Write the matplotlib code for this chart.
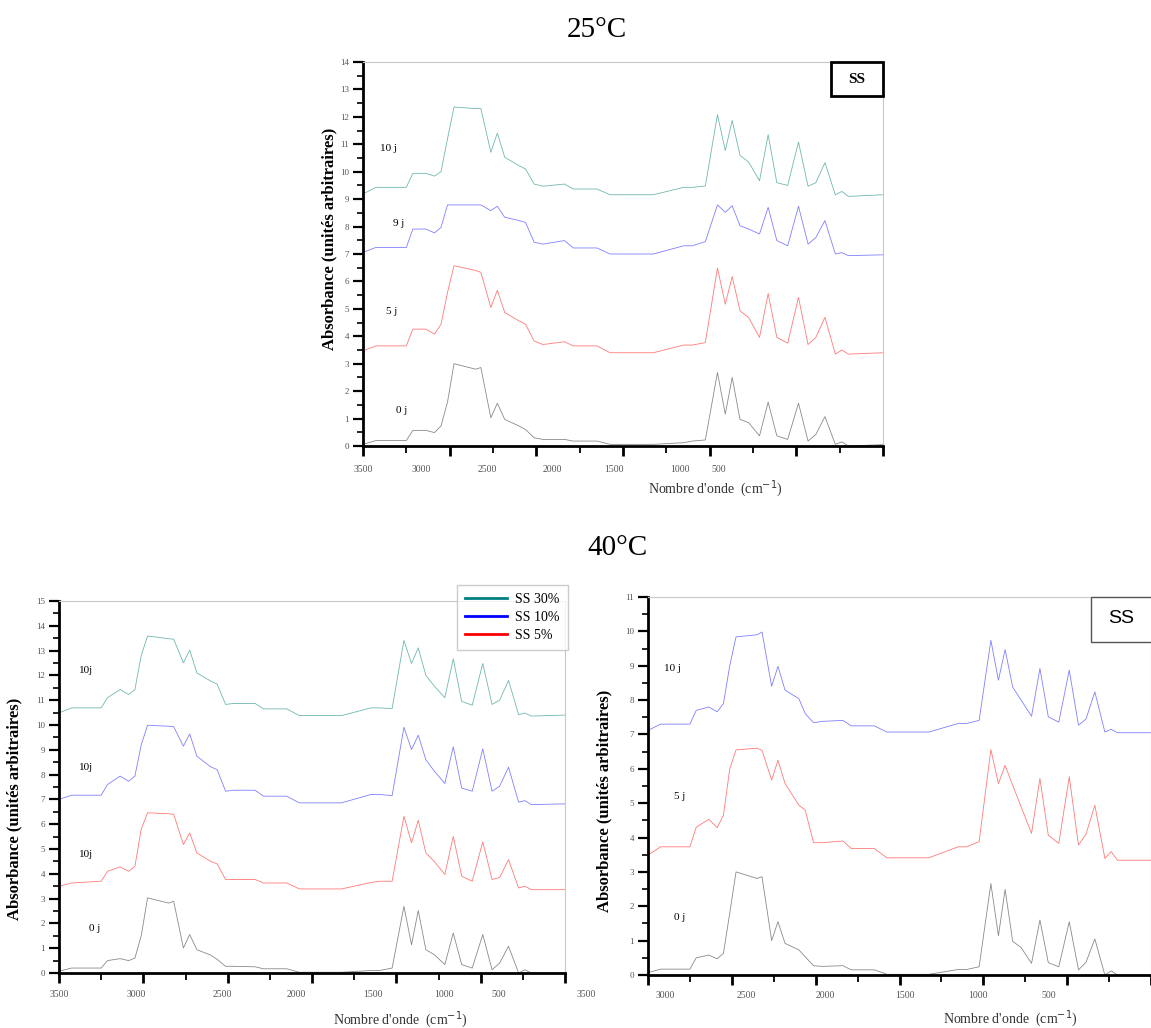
import numpy as np
import matplotlib
matplotlib.use('Agg')
import matplotlib.pyplot as plt
from matplotlib.lines import Line2D
from matplotlib.patches import Rectangle

plt.rcParams['font.family'] = ['Liberation Serif', 'DejaVu Serif']

# wavenumber grid (cm-1) shared by all spectra
wavenumber = [4000, 3910, 3700, 3655, 3565, 3505, 3460, 3415, 3370, 3220, 3184,
              3115, 3070, 3019, 2920, 2875, 2815, 2755, 2605, 2545, 2380, 2290,
              1990, 1780, 1720, 1630, 1546, 1492, 1444, 1390, 1330, 1255, 1195,
              1135, 1060, 985, 919, 865, 802, 730, 685, 640, 400]

# 25 C, stacked spectra (0 j, 5 j, 9 j, 10 j)
t25_0j = [0.06, 0.2, 0.2, 0.57, 0.57, 0.49, 0.73, 1.6, 3.0, 2.8, 2.86, 1.03, 1.56,
          0.97, 0.73, 0.6, 0.3, 0.24, 0.24, 0.18, 0.18, 0.06, 0.06, 0.12, 0.18,
          0.22, 2.68, 1.16, 2.5, 0.97, 0.85, 0.37, 1.6, 0.37, 0.24, 1.56, 0.18,
          0.42, 1.07, 0.06, 0.15, 0.0, 0.05]
t25_5j = [3.47, 3.65, 3.65, 4.26, 4.26, 4.08, 4.44, 5.6, 6.57, 6.4, 6.33, 5.05,
          5.68, 4.87, 4.56, 4.44, 3.83, 3.7, 3.8, 3.65, 3.65, 3.4, 3.4, 3.68, 3.68,
          3.77, 6.49, 5.17, 6.18, 4.93, 4.68, 3.96, 5.56, 3.96, 3.75, 5.42, 3.7,
          3.96, 4.69, 3.35, 3.5, 3.35, 3.4]
t25_9j = [7.06, 7.24, 7.24, 7.91, 7.91, 7.77, 7.97, 8.79, 8.79, 8.79, 8.79, 8.58,
          8.74, 8.34, 8.22, 8.15, 7.43, 7.36, 7.49, 7.22, 7.22, 7.0, 7.0, 7.3, 7.3,
          7.45, 8.79, 8.52, 8.76, 8.03, 7.91, 7.73, 8.7, 7.49, 7.3, 8.74, 7.36,
          7.6, 8.22, 7.0, 7.05, 6.94, 6.97]
t25_10j = [9.19, 9.43, 9.43, 9.94, 9.94, 9.84, 10.0, 11.2, 12.36, 12.3, 12.3, 10.71,
           11.41, 10.53, 10.22, 10.1, 9.55, 9.47, 9.55, 9.37, 9.37, 9.16, 9.16,
           9.43, 9.43, 9.48, 12.08, 10.77, 11.87, 10.6, 10.35, 9.67, 11.35, 9.6,
           9.5, 11.08, 9.47, 9.6, 10.33, 9.16, 9.28, 9.1, 9.16]

# 40 C, left panel
t40a_0j = [0.07, 0.2, 0.2, 0.5, 0.58, 0.5, 0.6, 1.5, 3.03, 2.82, 2.89, 1.01, 1.55,
           0.94, 0.72, 0.55, 0.27, 0.27, 0.25, 0.17, 0.17, 0.03, 0.03, 0.1, 0.1,
           0.2, 2.69, 1.14, 2.52, 0.94, 0.74, 0.34, 1.61, 0.34, 0.2, 1.55, 0.13,
           0.4, 1.08, 0.0, 0.13, 0.0, 0.0]
t40a_red = [3.5, 3.63, 3.7, 4.1, 4.28, 4.1, 4.3, 5.8, 6.46, 6.42, 6.4, 5.18, 5.65,
            4.84, 4.5, 4.4, 3.77, 3.77, 3.77, 3.63, 3.63, 3.39, 3.39, 3.65, 3.7,
            3.7, 6.32, 5.25, 6.16, 4.84, 4.5, 3.97, 5.51, 3.9, 3.7, 5.29, 3.77,
            3.85, 4.57, 3.43, 3.5, 3.36, 3.36]
t40a_blue = [7.0, 7.17, 7.17, 7.6, 7.94, 7.73, 7.94, 9.2, 9.99, 9.95, 9.93, 9.15,
             9.64, 8.74, 8.31, 8.2, 7.33, 7.37, 7.37, 7.13, 7.13, 6.86, 6.86, 7.2,
             7.2, 7.15, 9.91, 9.01, 9.59, 8.6, 8.14, 7.64, 9.12, 7.46, 7.33, 9.04,
             7.33, 7.53, 8.3, 6.89, 6.95, 6.79, 6.82]
t40a_green = [10.49, 10.69, 10.69, 11.1, 11.43, 11.23, 11.43, 12.8, 13.59, 13.48,
              13.46, 12.51, 13.02, 12.1, 11.77, 11.65, 10.83, 10.87, 10.87, 10.65,
              10.65, 10.38, 10.38, 10.69, 10.69, 10.66, 13.41, 12.48, 13.11, 12.0,
              11.57, 11.1, 12.67, 10.95, 10.8, 12.48, 10.83, 11.0, 11.8, 10.42,
              10.48, 10.36, 10.4]

# 40 C, right panel
t40b_0j = [0.07, 0.17, 0.17, 0.5, 0.58, 0.47, 0.63, 1.8, 3.0, 2.81, 2.86, 1.0, 1.55,
           0.92, 0.73, 0.53, 0.27, 0.25, 0.27, 0.15, 0.15, 0.02, 0.02, 0.16, 0.16,
           0.24, 2.66, 1.14, 2.49, 0.98, 0.8, 0.34, 1.6, 0.36, 0.24, 1.55, 0.15,
           0.37, 1.05, 0.0, 0.12, 0.0, 0.0]
t40b_5j = [3.49, 3.73, 3.73, 4.3, 4.53, 4.29, 4.65, 6.0, 6.55, 6.6, 6.54, 5.67, 6.25,
           5.57, 4.94, 4.8, 3.85, 3.85, 3.9, 3.68, 3.68, 3.41, 3.41, 3.73, 3.73,
           3.88, 6.56, 5.57, 6.1, 5.52, 4.9, 4.12, 5.72, 4.07, 3.83, 5.77, 3.78,
           4.1, 4.94, 3.39, 3.59, 3.34, 3.34]
t40b_10j = [7.12, 7.3, 7.3, 7.7, 7.8, 7.66, 7.9, 9.0, 9.84, 9.9, 9.98, 8.4, 8.98,
            8.29, 8.04, 7.61, 7.34, 7.38, 7.41, 7.25, 7.25, 7.07, 7.07, 7.32, 7.32,
            7.41, 9.74, 8.58, 9.47, 8.38, 8.0, 7.53, 8.92, 7.51, 7.36, 8.87, 7.27,
            7.45, 8.24, 7.07, 7.15, 7.05, 7.05]

legend_labels = ['SS 30%', 'SS 10%', 'SS 5%']

# tick label strings and where they sit along the axis
top_xlabels = [(4000, '3500'), (3598, '3000'), (3142, '2500'), (2692, '2000'),
               (2263, '1500'), (1805, '1000'), (1535, '500')]
left_xlabels = [(4000, '3500'), (3452, '3000'), (2840, '2500'), (2314, '2000'),
                (1766, '1500'), (1261, '1000'), (871, '500'), (250, '3500')]
right_xlabels = [(3873, '3000'), (3294, '2500'), (2729, '2000'), (2158, '1500'),
                 (1642, '1000'), (1135, '500')]

c_black = '#8a8a8a'
c_red = '#ff7a7a'
c_blue = '#8080ff'
c_green = '#70b8b0'

W, H = 1151, 1028
fig = plt.figure(figsize=(W / 100, H / 100), dpi=100)


def px_axes(left, top, right, bottom):
    return fig.add_axes([left / W, 1 - bottom / H, (right - left) / W, (bottom - top) / H])


def style(ax, ymax, xend, xlabels, lab_y):
    ax.set_xlim(4000, xend)
    ax.set_ylim(0, ymax)
    ax.set_xticks(range(4000, 399, -600))
    ax.set_xticks(range(3700, 399, -600), minor=True)
    ax.set_xticklabels([])
    ax.set_yticks(range(0, ymax + 1))
    ax.set_yticks(np.arange(0.5, ymax, 1.0), minor=True)
    ax.tick_params(axis='x', which='major', direction='out', length=7, width=2)
    ax.tick_params(axis='x', which='minor', direction='out', length=5, width=1.3)
    ax.tick_params(axis='y', which='major', direction='out', length=7, width=1.6,
                   labelsize=6.5, labelcolor='#555555', pad=3)
    ax.tick_params(axis='y', which='minor', direction='out', length=4, width=1.2)
    for s in ['left', 'bottom']:
        ax.spines[s].set_linewidth(2)
        ax.spines[s].set_color('black')
    for s in ['top', 'right']:
        ax.spines[s].set_linewidth(0.8)
        ax.spines[s].set_color('#c8c8c8')
    tr = ax.get_xaxis_transform()
    for pos, txt in xlabels:
        ax.text(pos, lab_y, txt, transform=tr, ha='center', va='center',
                fontsize=7, color='#555555', clip_on=False)


def axis_titles(ax, ylab_xy, xlab_xy):
    ax.set_ylabel('Absorbance (unités arbitraires)', fontsize=12, fontweight='bold')
    ax.yaxis.set_label_coords(*ylab_xy)
    ax.text(xlab_xy[0], xlab_xy[1], "Nombre d'onde  (cm$^{-1}$)", transform=ax.transAxes,
            ha='center', va='center', fontsize=10, color='#333333')


lw = 0.6

# 25 C
ax1 = px_axes(363, 62, 883, 446)
style(ax1, 14, 400, top_xlabels, -0.0625)
ax1.plot(wavenumber, t25_0j, color=c_black, lw=lw)
ax1.plot(wavenumber, t25_5j, color=c_red, lw=lw)
ax1.plot(wavenumber, t25_9j, color=c_blue, lw=lw)
ax1.plot(wavenumber, t25_10j, color=c_green, lw=lw)
for x, y, s in [(3826, 10.83, '10 j'), (3750, 8.13, '9 j'), (3805, 4.89, '5 j'), (3730, 1.28, '0 j')]:
    ax1.text(x, y, s, ha='center', va='center', fontsize=8)
axis_titles(ax1, (-0.05, 0.54), (0.677, -0.112))
ax1.add_patch(Rectangle((0.9, 0.911), 0.1, 0.089, transform=ax1.transAxes,
                        fc='white', ec='black', lw=2, clip_on=False, zorder=5))
ax1.text(0.95, 0.955, 'SS', transform=ax1.transAxes, ha='center', va='center',
         fontsize=11, fontweight='bold', zorder=6)

# 40 C, left
ax2 = px_axes(59, 601, 565, 973)
style(ax2, 15, 400, left_xlabels, -0.059)
ax2.plot(wavenumber, t40a_0j, color=c_black, lw=lw)
ax2.plot(wavenumber, t40a_red, color=c_red, lw=lw)
ax2.plot(wavenumber, t40a_blue, color=c_blue, lw=lw)
ax2.plot(wavenumber, t40a_green, color=c_green, lw=lw)
for x, y, s in [(3810, 12.18, '10j'), (3810, 8.27, '10j'), (3810, 4.76, '10j'), (3750, 1.81, '0 j')]:
    ax2.text(x, y, s, ha='center', va='center', fontsize=8)
axis_titles(ax2, (-0.072, 0.44), (0.674, -0.124))

handles = [Line2D([], [], color='#008080', lw=2),
           Line2D([], [], color='#0000ff', lw=2),
           Line2D([], [], color='#ff0000', lw=2)]
fig.legend(handles, legend_labels, loc='upper left',
           bbox_to_anchor=(457 / W, 1 - 585 / H), fontsize=10, frameon=True,
           fancybox=False, edgecolor='#c0c0c0', handlelength=3.0,
           labelspacing=0.35, borderpad=0.6, handletextpad=0.6,
           borderaxespad=0.0)

# 40 C, right
ax3 = px_axes(648, 597, 1151, 975)
style(ax3, 11, 448, right_xlabels, -0.053)
ax3.plot(wavenumber, t40b_0j, color=c_black, lw=lw)
ax3.plot(wavenumber, t40b_5j, color=c_red, lw=lw)
ax3.plot(wavenumber, t40b_10j, color=c_blue, lw=lw)
for x, y, s in [(3823, 8.93, '10 j'), (3775, 5.18, '5 j'), (3775, 1.66, '0 j')]:
    ax3.text(x, y, s, ha='center', va='center', fontsize=8)
axis_titles(ax3, (-0.07, 0.46), (0.72, -0.116))
ax3.add_patch(Rectangle((0.881, 0.881), 0.14, 0.119, transform=ax3.transAxes,
                        fc='white', ec='#555555', lw=1, clip_on=False, zorder=5))
ax3.text(0.94, 0.942, 'SS', transform=ax3.transAxes, ha='center', va='center',
         fontsize=14, family='Liberation Sans', zorder=6)

fig.text(597 / W, 1 - 30 / H, '25°C', ha='center', va='center', fontsize=21)
fig.text(617 / W, 1 - 548 / H, '40°C', ha='center', va='center', fontsize=21)

plt.savefig('out.png', dpi=100)
